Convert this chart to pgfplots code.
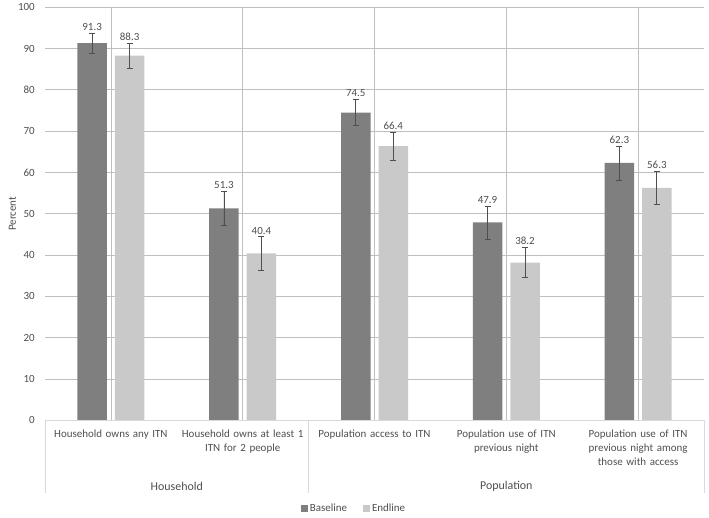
\documentclass[border=0pt]{standalone}
\usepackage{pgfplots}
\pgfplotsset{compat=1.18}
\usepackage{pgfplotstable}
\usepackage{fontspec}
\setmainfont{Carlito}
\definecolor{basec}{HTML}{7F7F7F}
\definecolor{endc}{HTML}{C9C9C9}
\definecolor{txt}{HTML}{4F4F4F}
\definecolor{grid}{HTML}{D9D9D9}
\pgfplotstableread{
x b be e ee
0 91.3 2.5 88.3 3.0
1 51.3 4.2 40.4 4.1
2 74.5 3.2 66.4 3.4
3 47.9 4.0 38.2 3.7
4 62.3 4.1 56.3 4.0
}\data
\pgfplotsset{
  myerr/.style={
    error bars/y dir=both, error bars/y explicit,
    error bars/error bar style={txt, line width=0.8pt},
    error bars/error mark options={txt, line width=0.8pt, mark size=3bp, rotate=90},
  }
}
\begin{document}
\begin{tikzpicture}
\path[use as bounding box] (0,0) rectangle (709bp,518bp);
\begin{axis}[
  at={(45bp,97.7bp)}, anchor=south west,
  scale only axis, width=659bp, height=413bp,
  ybar=8bp, bar width=29.5bp,
  xmin=-0.5, xmax=4.5, ymin=0, ymax=100,
  ytick={0,10,...,100},
  xtick={0,1,2,3,4},
  xticklabels={Household owns any ITN, Household owns at least 1\\ITN for 2 people, Population access to ITN, Population use of ITN\\previous night, Population use of ITN\\previous night among\\those with access},
  major tick length=0pt,
  ymajorgrids, grid style={grid, line width=0.8pt},
  axis line style={draw=none},
  axis x line*=bottom, axis y line*=left,
  tick label style={font=\fontsize{11}{14}\selectfont, text=txt},
  /pgf/number format/assume math mode=true,
  xticklabel style={align=center, text width=130bp, anchor=north, inner sep=0pt, yshift=-9bp},
  yticklabel style={anchor=east, inner sep=0pt, xshift=-10bp},
  ylabel={Percent},
  every axis y label/.style={at={(axis description cs:-0.0493,0.5)}, rotate=90, anchor=center, font=\fontsize{11}{14}\selectfont, text=txt},
  legend columns=2,
  legend style={draw=none, at={(0.469,-0.213)}, anchor=center, font=\fontsize{11}{13}\selectfont, text=txt, /tikz/every even column/.append style={column sep=14bp}},
  legend image code/.code={\fill[#1] (0bp,-3.5bp) rectangle (7bp,3.5bp);},
  clip=false,
]
\addplot[fill=basec, draw=none, myerr,
  visualization depends on={\thisrow{be} \as \myerr},
  nodes near coords,
  nodes near coords style={font=\fontsize{11}{14}\selectfont, text=txt, anchor=base, inner sep=0pt, yshift={\myerr*4.13bp+2.5bp},
    /pgf/number format/.cd, fixed, fixed zerofill, precision=1, assume math mode=true}]
  table[x=x, y=b, y error=be] {\data};
\addplot[fill=endc, draw=none, myerr,
  visualization depends on={\thisrow{ee} \as \myerr},
  nodes near coords,
  nodes near coords style={font=\fontsize{11}{14}\selectfont, text=txt, anchor=base, inner sep=0pt, yshift={\myerr*4.13bp+2.5bp},
    /pgf/number format/.cd, fixed, fixed zerofill, precision=1, assume math mode=true}]
  table[x=x, y=e, y error=ee] {\data};
\legend{Baseline, Endline}
\draw[grid, line width=0.8pt] (axis cs:-0.5,0) -- (axis cs:4.5,0);
\draw[grid, line width=0.8pt] (axis cs:-0.5,0) -- ([yshift=-73bp]axis cs:-0.5,0);
\draw[grid, line width=0.8pt] (axis cs:1.5,0) -- ([yshift=-73bp]axis cs:1.5,0);
\draw[grid, line width=0.8pt] (axis cs:4.5,0) -- ([yshift=-73bp]axis cs:4.5,0);
\node[font=\fontsize{12}{14}\selectfont, text=txt, anchor=center] at ([yshift=-65.7bp]axis cs:0.5,0) {Household};
\node[font=\fontsize{12}{14}\selectfont, text=txt, anchor=center] at ([yshift=-65.7bp]axis cs:3,0) {Population};
\end{axis}
\end{tikzpicture}
\end{document}
